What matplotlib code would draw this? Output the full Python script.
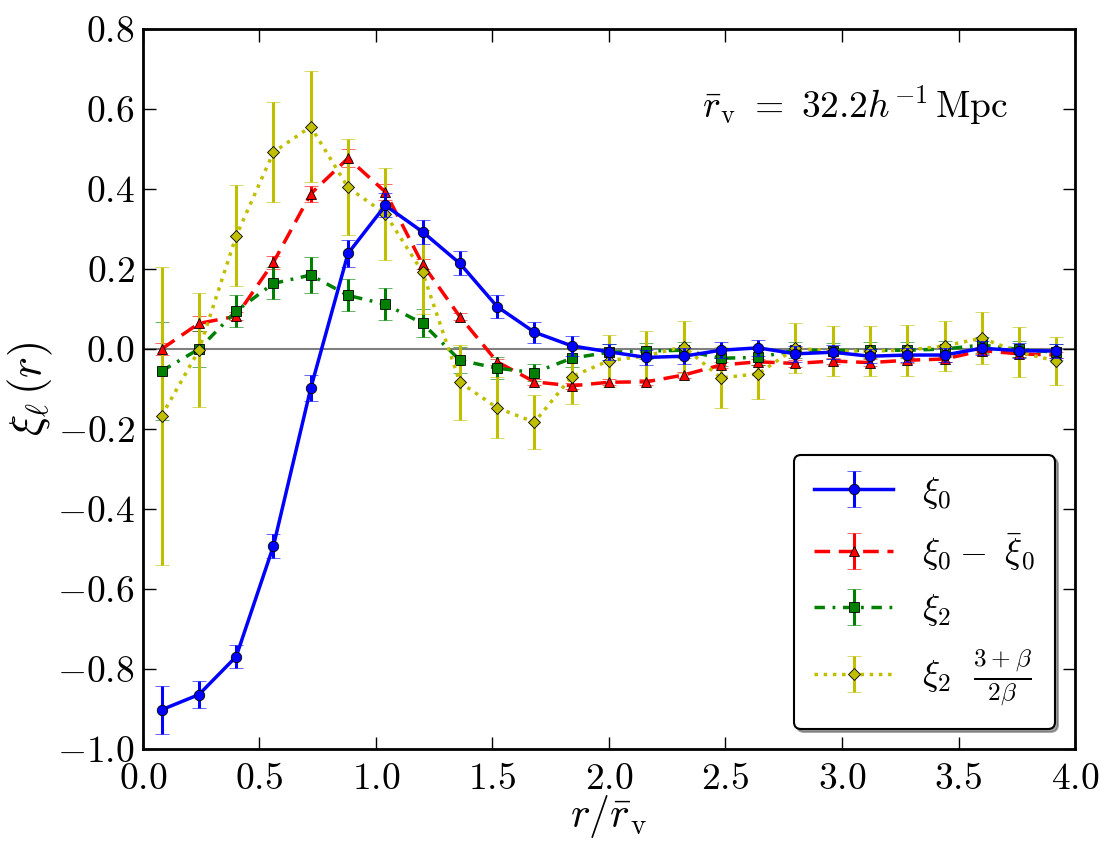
import numpy as np
import matplotlib
matplotlib.use('Agg')
import matplotlib.pyplot as plt
from matplotlib.ticker import FuncFormatter

plt.rcParams['mathtext.fontset'] = 'cm'
plt.rcParams['font.family'] = 'serif'
plt.rcParams['font.serif'] = ['cmr10', 'DejaVu Serif']
plt.rcParams['axes.unicode_minus'] = False

# bin centres r / r_v
r = [0.08, 0.24, 0.40, 0.56, 0.72, 0.88, 1.04, 1.20, 1.36, 1.52, 1.68, 1.84, 2.00,
     2.16, 2.32, 2.48, 2.64, 2.80, 2.96, 3.12, 3.28, 3.44, 3.60, 3.76, 3.92]

xi0 = [-0.902, -0.864, -0.769, -0.492, -0.098, 0.239, 0.359, 0.293, 0.214, 0.106, 0.042,
       0.008, -0.007, -0.021, -0.018, -0.003, 0.003, -0.012, -0.008, -0.018, -0.015,
       -0.015, 0.002, -0.004, -0.005]
xi0_err = [0.060, 0.033, 0.028, 0.030, 0.033, 0.034, 0.030, 0.030, 0.030, 0.028, 0.026,
           0.025, 0.020, 0.018, 0.020, 0.020, 0.020, 0.020, 0.018, 0.018, 0.018,
           0.018, 0.018, 0.018, 0.018]

xi0_bar = [0.0, 0.064, 0.082, 0.217, 0.388, 0.477, 0.393, 0.212, 0.081, -0.032, -0.082,
           -0.092, -0.083, -0.082, -0.065, -0.040, -0.032, -0.036, -0.030, -0.034,
           -0.028, -0.025, -0.004, -0.012, -0.015]
xi0_bar_err = [0.015, 0.018, 0.010, 0.016, 0.020, 0.023, 0.020, 0.012, 0.008, 0.008,
               0.008, 0.008, 0.008, 0.008, 0.008, 0.008, 0.008, 0.008, 0.008, 0.008,
               0.008, 0.008, 0.008, 0.008, 0.008]

xi2 = [-0.055, 0.0, 0.095, 0.164, 0.185, 0.134, 0.112, 0.064, -0.028, -0.048, -0.059,
       -0.023, -0.008, -0.005, -0.003, -0.023, -0.021, -0.003, -0.004, -0.003, -0.003,
       0.0, 0.010, -0.001, -0.008]
xi2_err = [0.123, 0.046, 0.040, 0.040, 0.046, 0.040, 0.040, 0.035, 0.032, 0.028, 0.022,
           0.022, 0.020, 0.020, 0.020, 0.020, 0.020, 0.020, 0.020, 0.020, 0.020,
           0.020, 0.020, 0.020, 0.020]

xi2_s = [-0.167, -0.003, 0.283, 0.492, 0.556, 0.404, 0.338, 0.192, -0.083, -0.147,
         -0.183, -0.069, -0.029, -0.017, 0.006, -0.072, -0.062, 0.002, -0.005, -0.005,
         -0.003, 0.008, 0.027, -0.008, -0.030]
xi2_s_err = [0.373, 0.143, 0.126, 0.125, 0.138, 0.120, 0.115, 0.105, 0.094, 0.076,
             0.068, 0.068, 0.065, 0.063, 0.065, 0.076, 0.062, 0.062, 0.062, 0.063,
             0.064, 0.063, 0.065, 0.062, 0.061]

fig = plt.figure(figsize=(11.11, 8.55), dpi=100)
ax = fig.add_axes([0.1287, 0.124, 0.8389, 0.842])

ax.axhline(0, color='gray', lw=1.5, zorder=1)

common = dict(lw=2.5, mec='k', mew=0.6, elinewidth=2.2, capsize=5, capthick=1)
e1 = ax.errorbar(r, xi0, yerr=xi0_err, color='b', ls='-', marker='o', ms=7.5,
                 label=r'$\xi_0$', zorder=4, **common)
e2 = ax.errorbar(r, xi0_bar, yerr=xi0_bar_err, color='r', ls='--', dashes=(4.5, 2.5),
                 marker='^', ms=7.5, label=r'$\xi_0 -\ \bar{\xi}_0$', zorder=3, **common)
e3 = ax.errorbar(r, xi2, yerr=xi2_err, color='g', ls='-.', dashes=(3, 2.2, 0.8, 2.2),
                 marker='s', ms=7, label=r'$\xi_2$', zorder=3, **common)
e4 = ax.errorbar(r, xi2_s, yerr=xi2_s_err, color='y', ls=':', marker='D', ms=6.5,
                 label=r'$\xi_2\ \ \frac{3+\beta}{2\beta}$', zorder=3, **common)
for e in (e1, e2, e3, e4):
    for c in e[1]:
        c.set_alpha(0.7)

ax.set_xlim(0, 4)
ax.set_ylim(-1.0, 0.8)
ax.set_xticks(np.arange(0, 4.01, 0.5))
ax.set_yticks(np.arange(-1.0, 0.81, 0.2))
fmt = FuncFormatter(lambda v, p: r'$%.1f$' % (0.0 if abs(v) < 1e-9 else v))
ax.xaxis.set_major_formatter(fmt)
ax.yaxis.set_major_formatter(fmt)
ax.tick_params(direction='in', top=True, right=True, length=9, width=1, labelsize=27)
ax.tick_params(axis='x', pad=10)
ax.tick_params(axis='y', pad=6)
for s in ax.spines.values():
    s.set_linewidth(2)

ax.set_xlabel(r'$r/\bar{r}_{\rm v}$', fontsize=30, labelpad=-2)
ax.set_ylabel(r'$\xi_\ell\,(r)$', fontsize=32, labelpad=1)

ax.text(2.4, 0.61, r'$\bar{r}_{\rm v}\ =\ 32.2h^{-1}\,{\rm Mpc}$', fontsize=27,
        va='center', ha='left')

leg = ax.legend(loc='lower right', fontsize=26, numpoints=1, fancybox=True, shadow=True,
                handlelength=2.2, borderpad=0.55, labelspacing=0.55, framealpha=1,
                handletextpad=0.8, borderaxespad=0.55)
leg.get_frame().set_edgecolor('k')
leg.get_frame().set_linewidth(1.5)

plt.savefig('out.png', dpi=100)
plt.close()
